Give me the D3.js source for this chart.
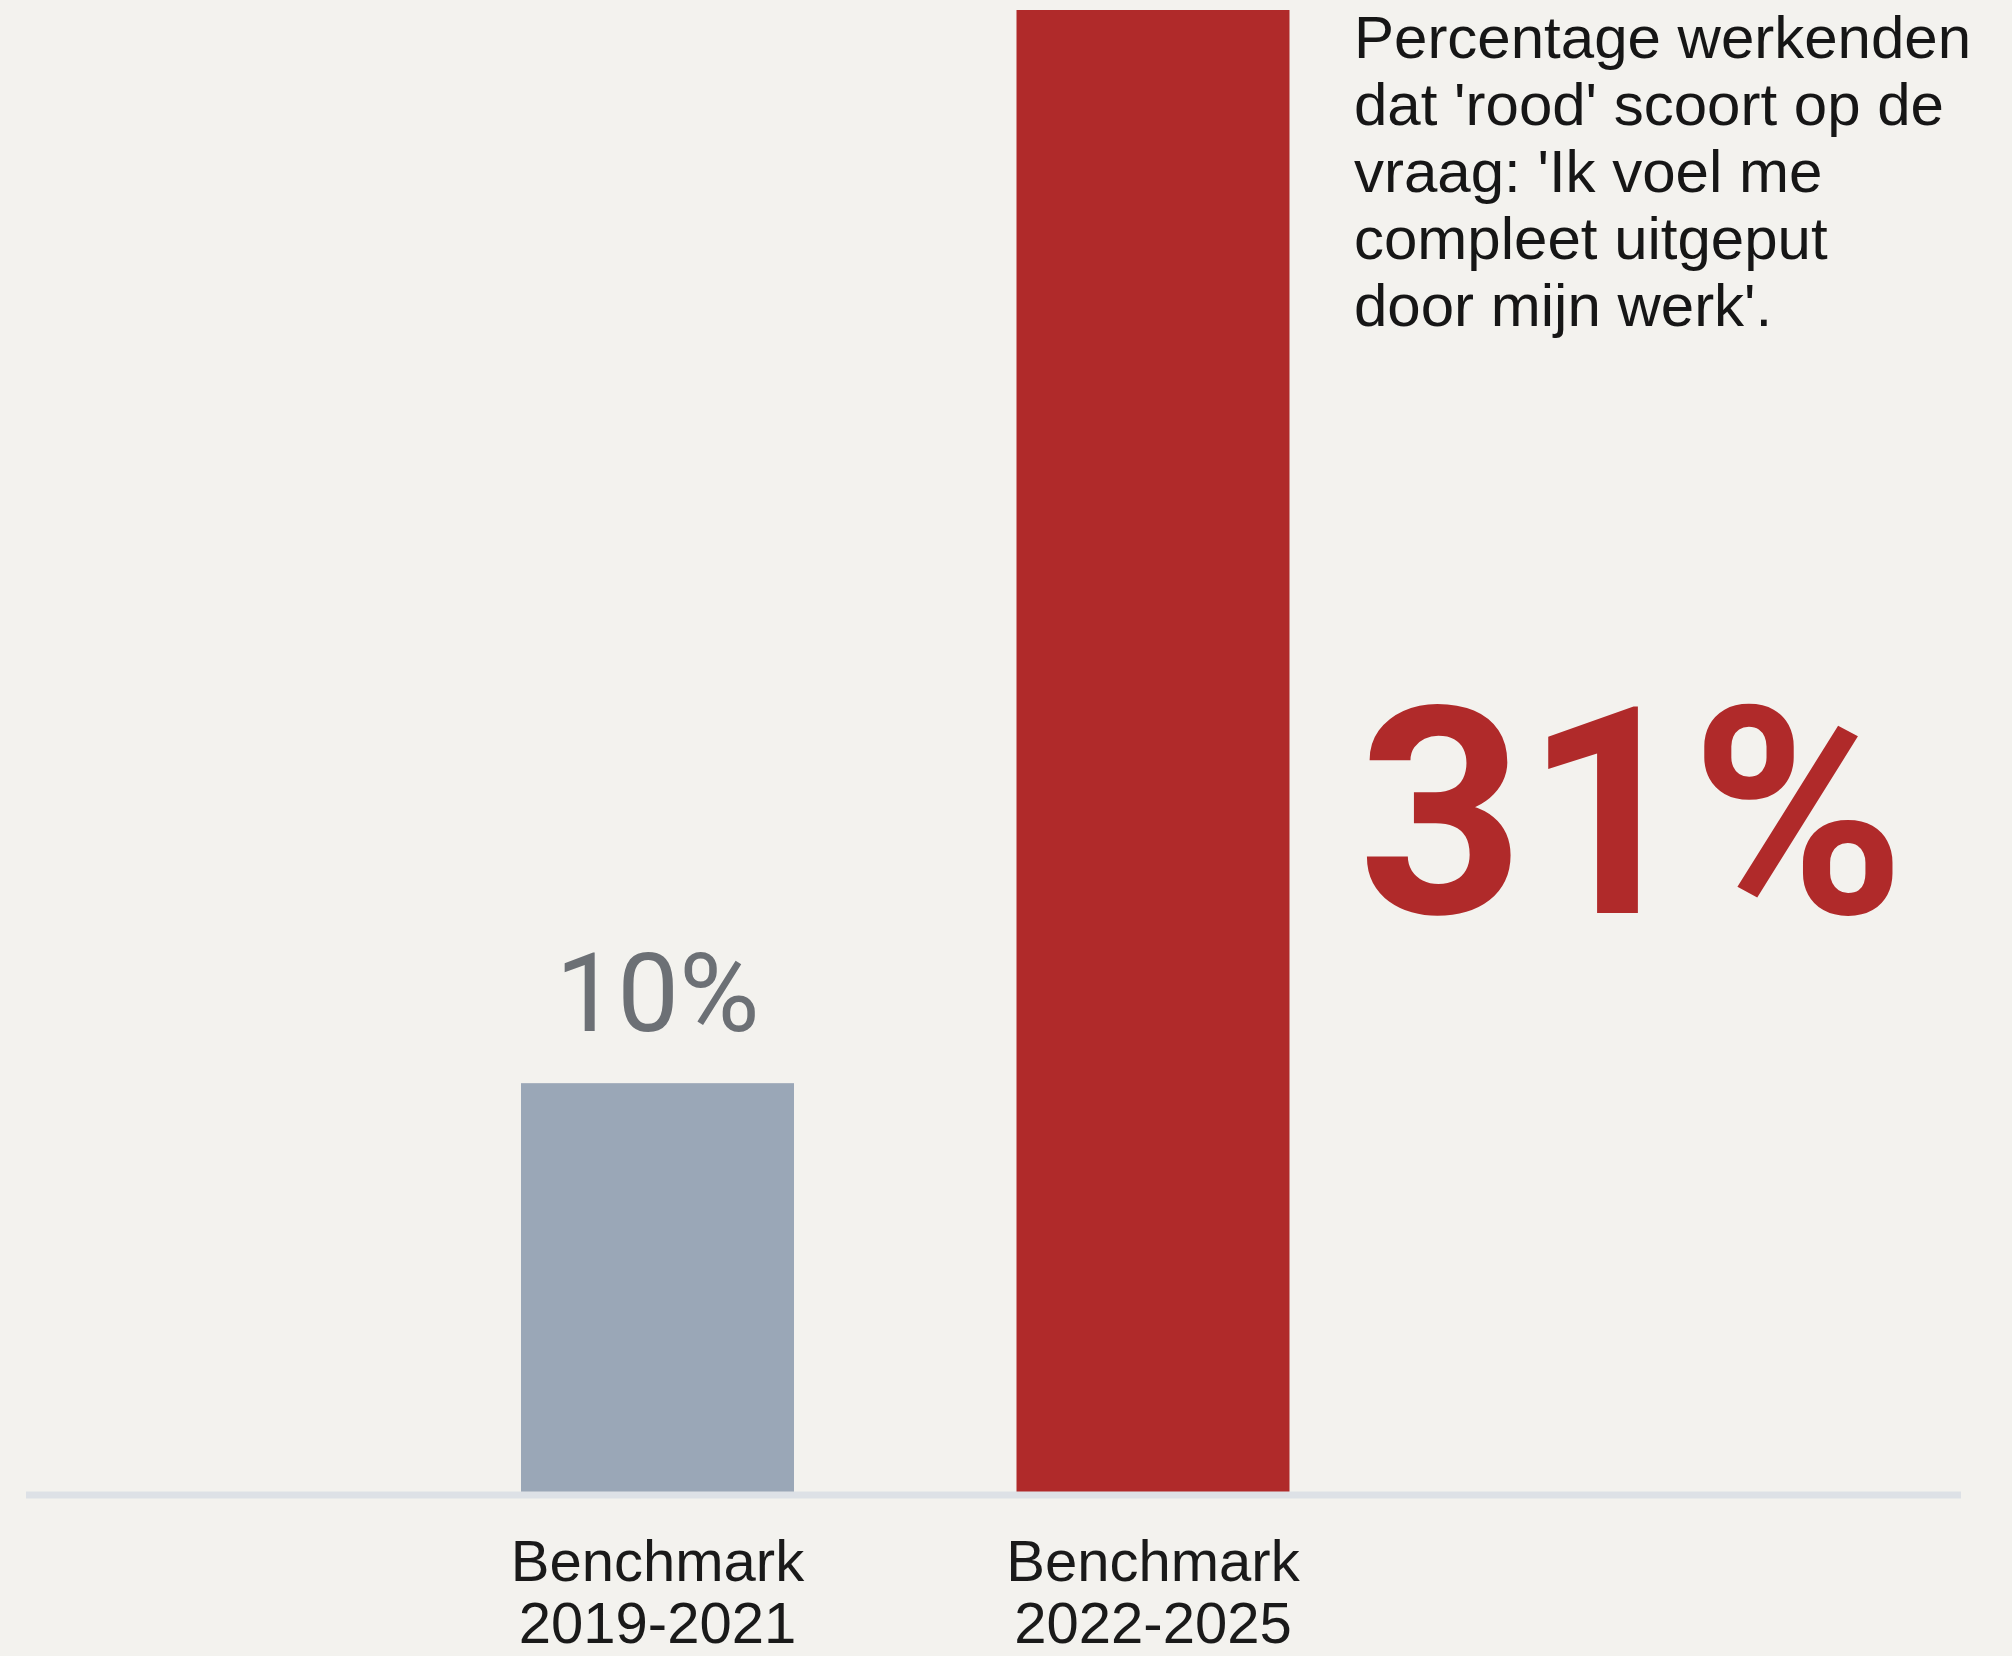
<html>
<head>
  <script src="https://d3js.org/d3.v7.min.js"></script>
  <style>
    body { margin: 0; background: #f3f2ee; }
    svg { display: block; }
  </style>
</head>
<body>
<div id="chart"></div>
<script>
// data
var categories = ["Benchmark\n2019-2021", "Benchmark\n2022-2025"];
var values = [10, 31];
var valueLabels = ["10%", "31%"];
var barColors = ["#9aa7b7", "#b02a2a"];
var noteLines = [
  "Percentage werkenden",
  "dat 'rood' scoort op de",
  "vraag: 'Ik voel me",
  "compleet uitgeput",
  "door mijn werk'."
];

var W = 2012, H = 1656;
var svg = d3.select("#chart").append("svg")
  .attr("width", W)
  .attr("height", H);

svg.append("rect").attr("width", W).attr("height", H).attr("fill", "#f3f2ee");

// x: centers of the bars
var x = d3.scalePoint()
  .domain(categories)
  .range([657.5, 1153]);
var barW = 273;

// y: the picture is not drawn from zero, so the domain starts a bit above it
var y = d3.scaleLinear()
  .domain([2, 31])
  .range([1492, 10]);

// bars
svg.selectAll(".bar")
  .data(values)
  .enter()
  .append("rect")
  .attr("class", "bar")
  .attr("x", function (d, i) { return x(categories[i]) - barW / 2; })
  .attr("y", function (d) { return y(d); })
  .attr("width", barW)
  .attr("height", function (d) { return y.range()[0] - y(d); })
  .attr("fill", function (d, i) { return barColors[i]; });

// baseline
svg.append("line")
  .attr("x1", 26).attr("x2", 1961)
  .attr("y1", 1495).attr("y2", 1495)
  .attr("stroke", "#dde1e6")
  .attr("stroke-width", 7);

// category labels
categories.forEach(function (c) {
  var t = svg.append("text")
    .attr("x", x(c))
    .attr("y", 1581)
    .attr("text-anchor", "middle")
    .style("font-family", "'Liberation Sans', Arial, sans-serif")
    .style("font-size", "58px")
    .style("fill", "#1a1a1a");
  c.split("\n").forEach(function (line, k) {
    t.append("tspan")
      .attr("x", x(c))
      .attr("dy", k === 0 ? 0 : 62)
      .text(line);
  });
});

// small value label on top of the first bar
svg.append("text")
  .attr("x", x(categories[0]))
  .attr("y", y(values[0]) - 52)
  .attr("text-anchor", "middle")
  .style("font-family", "Roboto, sans-serif")
  .style("font-size", "110px")
  .style("fill", "#6c7075")
  .text(valueLabels[0]);

// big value next to the second bar
svg.append("text")
  .attr("x", 1358)
  .attr("y", 913)
  .style("font-family", "Roboto, sans-serif")
  .style("font-weight", "bold")
  .style("font-size", "290px")
  .style("fill", barColors[1])
  .text(valueLabels[1]);

// note
svg.append("g")
  .selectAll("text")
  .data(noteLines)
  .enter()
  .append("text")
  .attr("x", 1354)
  .attr("y", function (d, i) { return 58 + i * 67; })
  .style("font-family", "'Liberation Sans', Arial, sans-serif")
  .style("font-size", "60px")
  .style("fill", "#161616")
  .text(function (d) { return d; });
</script>
</body>
</html>
